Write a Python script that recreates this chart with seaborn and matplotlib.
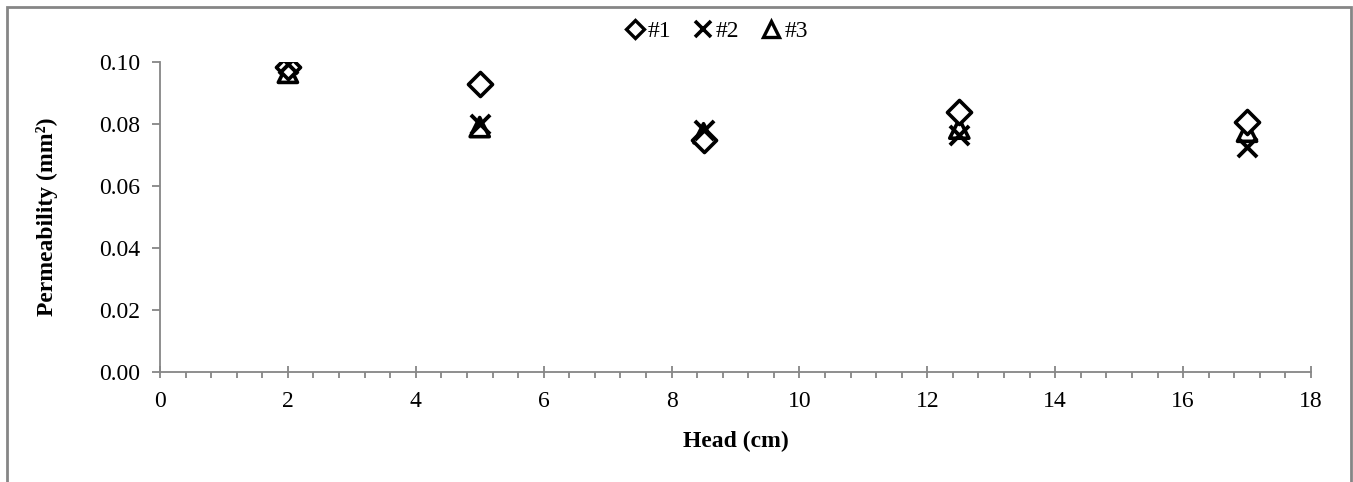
import numpy as np
import pandas as pd
import matplotlib
matplotlib.use("Agg")
import matplotlib.pyplot as plt
from matplotlib.lines import Line2D
from matplotlib.patches import Rectangle
from matplotlib.ticker import MultipleLocator, FormatStrFormatter
import seaborn as sns

head = [2, 5, 8.5, 12.5, 17]
s1 = [0.0985, 0.0930, 0.0750, 0.0840, 0.0805]
s2 = [0.0995, 0.0800, 0.0780, 0.0765, 0.0725]
s3 = [0.0965, 0.0790, 0.0770, 0.0785, 0.0775]
series_names = ["#1", "#2", "#3"]

df = pd.DataFrame({
    "Head": head * 3,
    "Perm": s1 + s2 + s3,
    "Series": sum([[n] * len(head) for n in series_names], []),
})

sns.set_theme(style="white")
plt.rcParams["font.family"] = ["Liberation Serif", "DejaVu Serif"]
plt.rcParams["text.color"] = "black"
plt.rcParams["axes.labelcolor"] = "black"

fig = plt.figure(figsize=(13.53, 4.82), dpi=100)
ax = fig.add_axes([160 / 1353, 1 - 372 / 482, (1311 - 160) / 1353, (372 - 62) / 482])

gray = "#868686"
styles = {
    "#1": dict(marker="D", s=150, facecolor="white", edgecolor="black", linewidth=2.6),
    "#2": dict(marker="x", s=190, color="black", linewidth=2.8),
    "#3": dict(marker="^", s=190, facecolor="none", edgecolor="black", linewidth=2.6),
}
order = ["#3", "#1", "#2"]
for name in order:
    sub = df[df["Series"] == name]
    sns.scatterplot(data=sub, x="Head", y="Perm", ax=ax, legend=False, zorder=3,
                    **styles[name])

ax.set_xlim(0, 18)
ax.set_ylim(0, 0.10)
ax.xaxis.set_major_locator(MultipleLocator(2))
ax.xaxis.set_minor_locator(MultipleLocator(0.4))
ax.yaxis.set_major_locator(MultipleLocator(0.02))
ax.yaxis.set_major_formatter(FormatStrFormatter("%.2f"))

for sp in ["top", "right"]:
    ax.spines[sp].set_visible(False)
for sp in ["left", "bottom"]:
    ax.spines[sp].set_color(gray)
    ax.spines[sp].set_linewidth(1.3)

fs = 17
ax.tick_params(axis="x", which="major", direction="inout", length=9, width=1.3,
               color=gray, labelsize=fs, labelcolor="black", pad=9, bottom=True)
ax.tick_params(axis="x", which="minor", direction="out", length=4, width=1.3,
               color=gray, bottom=True)
ax.tick_params(axis="y", which="major", direction="out", length=6, width=1.3,
               color=gray, labelsize=fs, labelcolor="black", pad=8, left=True)

ax.set_xlabel("Head (cm)", fontsize=fs, fontweight="bold", labelpad=14)
ax.set_ylabel("Permeability (mm²)", fontsize=fs, fontweight="bold", labelpad=30)
ax.grid(False)

handles = [
    Line2D([], [], linestyle="none", marker="D", markersize=9, markerfacecolor="white",
           markeredgecolor="black", markeredgewidth=2.4),
    Line2D([], [], linestyle="none", marker="x", markersize=11, color="black",
           markeredgewidth=2.6),
    Line2D([], [], linestyle="none", marker="^", markersize=11, markerfacecolor="white",
           markeredgecolor="black", markeredgewidth=2.4),
]
fig.legend(handles, series_names, loc="center", bbox_to_anchor=(716 / 1353, 1 - 31 / 482),
           ncol=3, frameon=False, fontsize=fs, handlelength=0.9, handletextpad=0.1,
           columnspacing=0.9, borderpad=0)

frame = Rectangle((7 / 1353, -0.2), (1351 - 7) / 1353, 1.2 - 7 / 482,
                  transform=fig.transFigure, fill=False, edgecolor=gray,
                  linewidth=2.0, clip_on=False)
fig.patches.append(frame)

fig.savefig("out.png", dpi=100, facecolor="white")
